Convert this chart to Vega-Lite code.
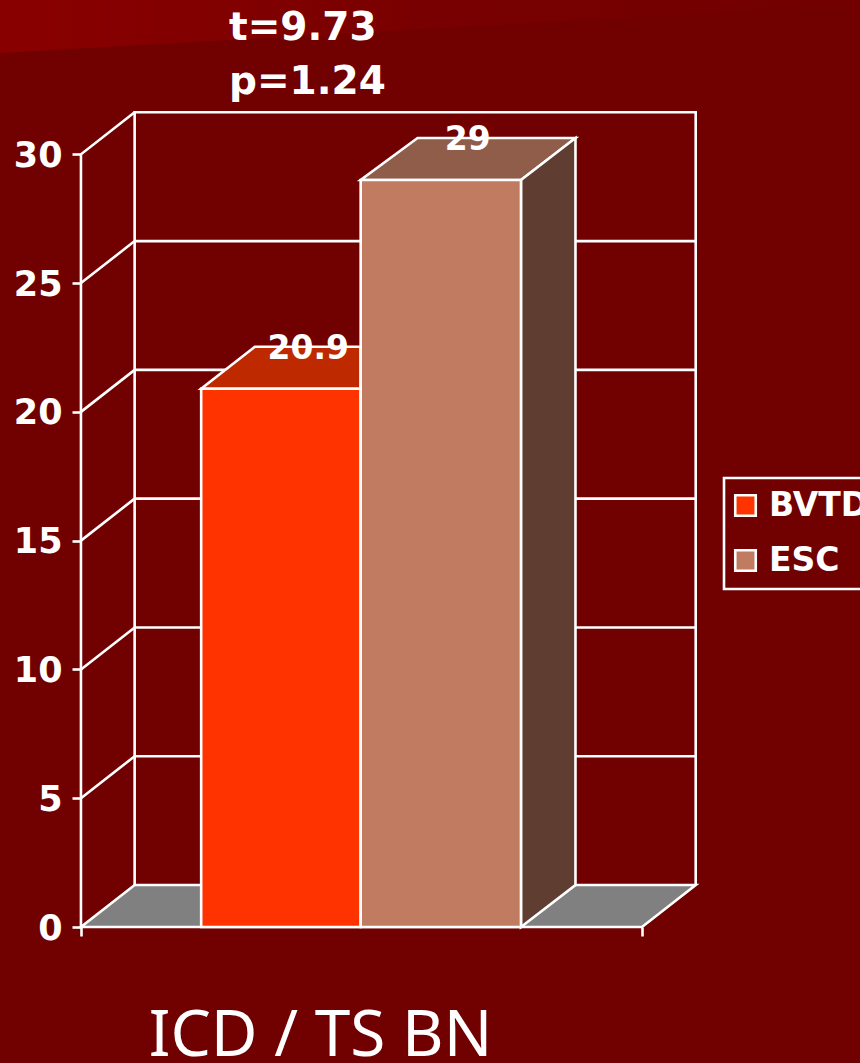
{
  "$schema": "https://vega.github.io/schema/vega-lite/v6.json",
  "width": 860,
  "height": 1063,
  "padding": 0,
  "autosize": {"type": "none"},
  "background": "#710000",
  "title": {
    "text": ["t=9.73", "p=1.24"],
    "anchor": "start",
    "frame": "group",
    "baseline": "top",
    "align": "left",
    "dx": 229,
    "offset": -102,
    "font": "DejaVu Sans",
    "fontWeight": "bold",
    "fontSize": 39,
    "lineHeight": 54,
    "color": "#ffffff"
  },
  "config": {"view": {"stroke": null}, "legend": {"strokeWidth": 2.6}},
  "datasets": {
    "bars": [
      {"series": "BVTD", "x": 0.75, "x2": 1.745, "y": 20.9, "y2": 0},
      {"series": "ESC", "x": 1.745, "x2": 2.745, "y": 29, "y2": 0}
    ],
    "corner": [
      {"x": -0.51, "y": 33.93, "y2": 36},
      {"x": 2.115, "y": 34.85, "y2": 36},
      {"x": 4.87, "y": 35.8, "y2": 36}
    ],
    "floor": [
      {"x": 0, "y": 0, "y2": 0},
      {"x": 0.335, "y": 0, "y2": 1.63},
      {"x": 3.5, "y": 0, "y2": 1.63},
      {"x": 3.835, "y": 1.63, "y2": 1.63}
    ],
    "frame": [
      {"edge": "back", "order": 0, "x": 0.335, "y": 1.63},
      {"edge": "back", "order": 1, "x": 0.335, "y": 31.63},
      {"edge": "back", "order": 2, "x": 3.835, "y": 31.63},
      {"edge": "back", "order": 3, "x": 3.835, "y": 1.63},
      {"edge": "left", "order": 0, "x": 0, "y": 0},
      {"edge": "left", "order": 1, "x": 0, "y": 30},
      {"edge": "left", "order": 2, "x": 0.335, "y": 31.63},
      {"edge": "g5", "order": 0, "x": 0, "y": 5},
      {"edge": "g5", "order": 1, "x": 0.335, "y": 6.63},
      {"edge": "g5", "order": 2, "x": 3.835, "y": 6.63},
      {"edge": "g10", "order": 0, "x": 0, "y": 10},
      {"edge": "g10", "order": 1, "x": 0.335, "y": 11.63},
      {"edge": "g10", "order": 2, "x": 3.835, "y": 11.63},
      {"edge": "g15", "order": 0, "x": 0, "y": 15},
      {"edge": "g15", "order": 1, "x": 0.335, "y": 16.63},
      {"edge": "g15", "order": 2, "x": 3.835, "y": 16.63},
      {"edge": "g20", "order": 0, "x": 0, "y": 20},
      {"edge": "g20", "order": 1, "x": 0.335, "y": 21.63},
      {"edge": "g20", "order": 2, "x": 3.835, "y": 21.63},
      {"edge": "g25", "order": 0, "x": 0, "y": 25},
      {"edge": "g25", "order": 1, "x": 0.335, "y": 26.63},
      {"edge": "g25", "order": 2, "x": 3.835, "y": 26.63}
    ],
    "topBVTD": [
      {"x": 0.75, "y": 20.9, "y2": 20.9},
      {"x": 1.085, "y": 20.9, "y2": 22.53},
      {"x": 1.745, "y": 20.9, "y2": 22.53}
    ],
    "topESC": [
      {"x": 1.745, "y": 29, "y2": 29},
      {"x": 2.1, "y": 29, "y2": 30.63},
      {"x": 2.745, "y": 29, "y2": 30.63},
      {"x": 3.085, "y": 30.63, "y2": 30.63}
    ],
    "sideESC": [
      {"x": 2.745, "y": 0, "y2": 29},
      {"x": 3.085, "y": 1.63, "y2": 30.63}
    ]
  },
  "encoding": {
    "x": {
      "field": "x",
      "type": "quantitative",
      "scale": {"domain": [-0.505, 4.86], "nice": false, "zero": false},
      "axis": {
        "values": [0, 3.5],
        "labels": false,
        "grid": false,
        "domain": false,
        "offset": -136,
        "tickColor": "#ffffff",
        "tickWidth": 2.6,
        "tickSize": 9,
        "title": "ICD / TS BN",
        "titleX": 320,
        "titleY": 128,
        "titleAlign": "center",
        "titleBaseline": "alphabetic",
        "titleAnchor": "middle",
        "titleFont": "Noto Sans",
        "titleFontWeight": "normal",
        "titleFontSize": 64,
        "titleColor": "#ffffff"
      }
    },
    "y": {
      "field": "y",
      "type": "quantitative",
      "scale": {"domain": [-5.28, 35.99], "nice": false, "zero": false},
      "axis": {
        "values": [0, 5, 10, 15, 20, 25, 30],
        "grid": false,
        "domain": false,
        "offset": -81,
        "tickColor": "#ffffff",
        "tickWidth": 2.6,
        "tickSize": 9,
        "labelFont": "DejaVu Sans",
        "labelFontWeight": "bold",
        "labelFontSize": 35,
        "labelColor": "#ffffff",
        "labelPadding": 10,
        "labelOffset": 1,
        "title": null
      }
    }
  },
  "layer": [
    {
      "data": {"name": "corner"},
      "mark": {
        "type": "area",
        "orient": "vertical",
        "color": {
          "gradient": "linear",
          "x1": 0,
          "x2": 1,
          "y1": 0,
          "y2": 0,
          "stops": [
            {"offset": 0, "color": "#8a0000"},
            {"offset": 0.5, "color": "#790000"},
            {"offset": 1, "color": "#720000"}
          ]
        }
      },
      "encoding": {"y2": {"field": "y2"}}
    },
    {
      "data": {"name": "floor"},
      "mark": {"type": "area", "orient": "vertical", "fill": "#808080", "stroke": "#ffffff", "strokeWidth": 2.6},
      "encoding": {"y2": {"field": "y2"}}
    },
    {
      "data": {"name": "frame"},
      "mark": {"type": "line", "color": "#ffffff", "strokeWidth": 2.6},
      "encoding": {
        "detail": {"field": "edge"},
        "order": {"field": "order", "type": "quantitative"}
      }
    },
    {
      "data": {"name": "topBVTD"},
      "mark": {"type": "area", "orient": "vertical", "fill": "#bf2900", "stroke": "#ffffff", "strokeWidth": 2.6},
      "encoding": {"y2": {"field": "y2"}}
    },
    {
      "data": {"name": "topESC"},
      "mark": {"type": "area", "orient": "vertical", "fill": "#8f5d49", "stroke": "#ffffff", "strokeWidth": 2.6},
      "encoding": {"y2": {"field": "y2"}}
    },
    {
      "data": {"name": "sideESC"},
      "mark": {"type": "area", "orient": "vertical", "fill": "#5f3d31", "stroke": "#ffffff", "strokeWidth": 2.6},
      "encoding": {"y2": {"field": "y2"}}
    },
    {
      "data": {"name": "bars"},
      "mark": {"type": "rect", "stroke": "#ffffff", "strokeWidth": 2.6},
      "encoding": {
        "x2": {"field": "x2"},
        "y2": {"field": "y2"},
        "fill": {
          "field": "series",
          "type": "nominal",
          "scale": {"domain": ["BVTD", "ESC"], "range": ["#ff3300", "#c07b60"]},
          "legend": {
            "orient": "none",
            "legendX": 724,
            "legendY": 478,
            "title": null,
            "padding": 11,
            "strokeColor": "#ffffff",
            "symbolType": "square",
            "symbolSize": 420,
            "symbolOffset": -6,
            "symbolStrokeColor": "#ffffff",
            "symbolStrokeWidth": 2.6,
            "symbolOpacity": 1,
            "rowPadding": 21,
            "labelOffset": 7,
            "labelFont": "DejaVu Sans",
            "labelFontWeight": "bold",
            "labelFontSize": 33,
            "labelColor": "#ffffff",
            "labelLimit": 200
          }
        }
      }
    },
    {
      "data": {"name": "bars"},
      "mark": {"type": "text", "dx": 27, "dy": -40, "font": "DejaVu Sans", "fontWeight": "bold", "fontSize": 33, "color": "#ffffff"},
      "encoding": {
        "x": {"field": "x", "type": "quantitative"},
        "xOffset": {"value": 80},
        "text": {"field": "y", "type": "quantitative"}
      }
    }
  ]
}
